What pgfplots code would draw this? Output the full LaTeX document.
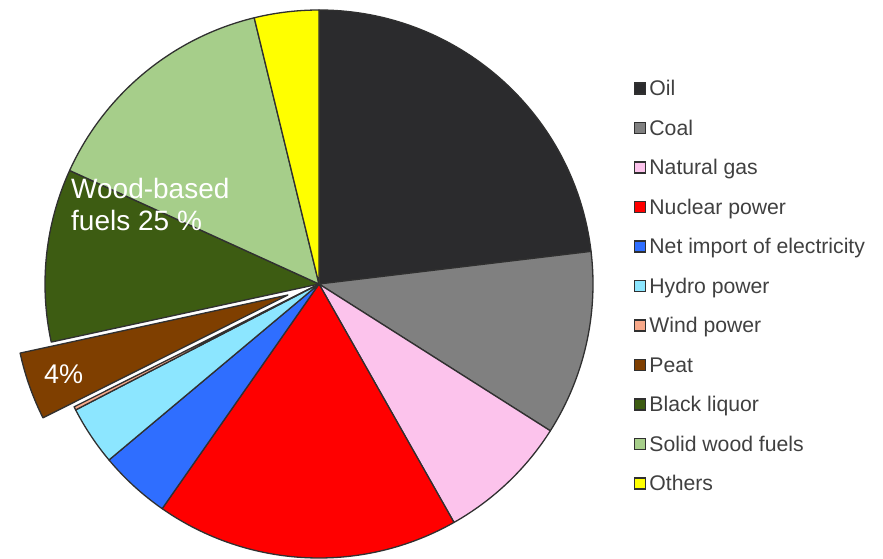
\documentclass[border=0pt]{standalone}
\usepackage{fontspec}
\setmainfont{Liberation Sans}
\usepackage{pgfplots}
\pgfplotsset{compat=1.18}
\usepackage{pgfplotstable}

\definecolor{s0}{HTML}{2B2B2D}
\definecolor{s1}{HTML}{808080}
\definecolor{s2}{HTML}{FCC3EC}
\definecolor{s3}{HTML}{FF0000}
\definecolor{s4}{HTML}{2F6EFF}
\definecolor{s5}{HTML}{8CE6FF}
\definecolor{s6}{HTML}{F8A98A}
\definecolor{s7}{HTML}{7F3F00}
\definecolor{s8}{HTML}{3D5C12}
\definecolor{s9}{HTML}{A6CE8A}
\definecolor{s10}{HTML}{FFFF00}
\definecolor{edgec}{HTML}{303030}
\definecolor{legtext}{HTML}{404040}

\pgfplotstableread{
name value explode
Oil 23.1 0
Coal 10.9 0
Gas 7.8 0
Nuclear 17.9 0
Import 4.2 0
Hydro 3.5 0
Wind 0.2 0
Peat 4.0 33
Blackliquor 10.2 0
Solidwood 14.4 0
Others 3.8 0
}\piedata

\begin{document}
\begin{tikzpicture}
\useasboundingbox (0,0) rectangle (883pt,558pt);
\def\cum{0}
\pgfplotsforeachungrouped \i in {0,...,10}{%
  \pgfplotstablegetelem{\i}{value}\of\piedata
  \let\myval\pgfplotsretval
  \pgfplotstablegetelem{\i}{explode}\of\piedata
  \let\myexp\pgfplotsretval
  \pgfmathsetmacro\s{90-3.6*\cum}%
  \pgfmathsetmacro\e{\s-3.6*\myval}%
  \pgfmathsetmacro\m{(\s+\e)/2}%
  \expandafter\xdef\csname sA\i\endcsname{\s}%
  \expandafter\xdef\csname eA\i\endcsname{\e}%
  \expandafter\xdef\csname mA\i\endcsname{\m}%
  \expandafter\xdef\csname oF\i\endcsname{\myexp}%
  \pgfmathsetmacro\cum{\cum+\myval}%
  \global\let\cum\cum
}
\begin{axis}[
  anchor=origin, at={(0pt,0pt)},
  x=1pt, y=1pt, xmin=0, xmax=883, ymin=0, ymax=558,
  hide axis, clip=false, scale only axis,
  legend image code/.code={\draw[#1] (0pt,-3.5pt) rectangle (11pt,7.5pt);},
  legend cell align=left,
  legend style={draw=none, fill=none, at={(axis cs:631,480)}, anchor=north west,
    font=\fontsize{21.2}{25}\selectfont, text=legtext, row sep=19pt, column sep=2pt,
    nodes={inner sep=1pt, text height=14.5pt, text depth=4pt}},
]
\pgfplotsinvokeforeach{0,...,10}{
  \draw[fill=s#1, draw=edgec, line width=1.3pt, line join=round,
        shift={(\csname mA#1\endcsname:\csname oF#1\endcsname pt)}]
    (axis cs:319,274) -- ++(\csname sA#1\endcsname:274pt)
    arc[start angle=\csname sA#1\endcsname, end angle=\csname eA#1\endcsname, radius=274pt] -- cycle;
}
\node[anchor=base west, inner sep=0pt, text=white, font=\fontsize{28}{32}\selectfont] at (axis cs:71,360) {Wood-based};
\node[anchor=base west, inner sep=0pt, text=white, font=\fontsize{28}{32}\selectfont] at (axis cs:71,328) {fuels 25 \%};
\node[anchor=base west, inner sep=0pt, text=white, font=\fontsize{27}{31}\selectfont] at (axis cs:44,175) {4\%};
\addlegendimage{fill=s0, draw=edgec, line width=1.2pt}
\addlegendentry{Oil}
\addlegendimage{fill=s1, draw=edgec, line width=1.2pt}
\addlegendentry{Coal}
\addlegendimage{fill=s2, draw=edgec, line width=1.2pt}
\addlegendentry{Natural gas}
\addlegendimage{fill=s3, draw=edgec, line width=1.2pt}
\addlegendentry{Nuclear power}
\addlegendimage{fill=s4, draw=edgec, line width=1.2pt}
\addlegendentry{Net import of electricity}
\addlegendimage{fill=s5, draw=edgec, line width=1.2pt}
\addlegendentry{Hydro power}
\addlegendimage{fill=s6, draw=edgec, line width=1.2pt}
\addlegendentry{Wind power}
\addlegendimage{fill=s7, draw=edgec, line width=1.2pt}
\addlegendentry{Peat}
\addlegendimage{fill=s8, draw=edgec, line width=1.2pt}
\addlegendentry{Black liquor}
\addlegendimage{fill=s9, draw=edgec, line width=1.2pt}
\addlegendentry{Solid wood fuels}
\addlegendimage{fill=s10, draw=edgec, line width=1.2pt}
\addlegendentry{Others}
\end{axis}
\end{tikzpicture}
\end{document}
